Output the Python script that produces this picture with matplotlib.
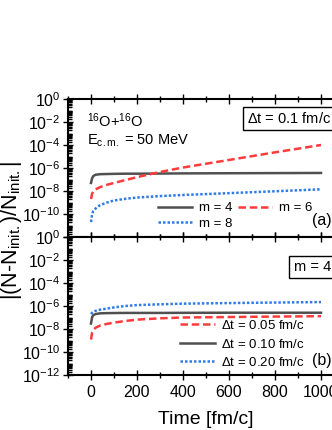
import numpy as np
import matplotlib
matplotlib.use("Agg")
import matplotlib.pyplot as plt
from matplotlib.ticker import LogLocator, MultipleLocator, NullFormatter

plt.rcParams['font.family'] = ['Liberation Sans', 'DejaVu Sans']
plt.rcParams['mathtext.fontset'] = 'custom'
plt.rcParams['mathtext.rm'] = 'Liberation Sans'
plt.rcParams['mathtext.it'] = 'Liberation Sans'
plt.rcParams['mathtext.default'] = 'regular'

# time grid (fm/c)
t = [0, 5, 10, 20, 40, 70, 100, 150, 200, 300, 400, 600, 800, 1000]

# panel (a): dt = 0.1 fm/c
a_m4 = [5e-8, 1.3e-7, 2.0e-7, 2.6e-7, 2.9e-7, 3.0e-7, 3.1e-7, 3.2e-7, 3.2e-7, 3.3e-7, 3.4e-7, 3.5e-7, 3.6e-7, 3.7e-7]
a_m6 = [2e-9, 6e-9, 9e-9, 1.4e-8, 2.2e-8, 3.5e-8, 5e-8, 9e-8, 1.6e-7, 4.5e-7, 1.1e-6, 5e-6, 2.3e-5, 1e-4]
a_m8 = [2e-11, 1e-10, 1.8e-10, 3e-10, 6e-10, 1e-9, 1.5e-9, 2.1e-9, 2.7e-9, 3.6e-9, 4.5e-9, 6.5e-9, 9.5e-9, 1.4e-8]

# panel (b): m = 4
b_005 = [1.2e-9, 5e-9, 8e-9, 1.3e-8, 2e-8, 2.8e-8, 3.6e-8, 5e-8, 6.5e-8, 8.5e-8, 1e-7, 1.1e-7, 1.2e-7, 1.3e-7]
b_010 = [3e-8, 1.1e-7, 1.6e-7, 2.0e-7, 2.3e-7, 2.4e-7, 2.45e-7, 2.5e-7, 2.5e-7, 2.5e-7, 2.55e-7, 2.6e-7, 2.6e-7, 2.6e-7]
b_020 = [2e-7, 2.6e-7, 3.2e-7, 3.8e-7, 4.8e-7, 6e-7, 7.5e-7, 1.0e-6, 1.2e-6, 1.4e-6, 1.6e-6, 1.8e-6, 2.0e-6, 2.2e-6]

c_black = '#505050'
c_red = '#ff3b3b'
c_blue = '#2f7be8'

fig = plt.figure(figsize=(3.32, 4.30), dpi=100)
W, H = 332, 430
left, right = 68, 344
ax1 = fig.add_axes([left / W, (H - 237) / H, (right - left) / W, 138 / H])
ax2 = fig.add_axes([left / W, (H - 375) / H, (right - left) / W, 138 / H])

for ax in (ax1, ax2):
    ax.set_yscale('log')
    ax.set_ylim(1e-12, 1e0)
    ax.set_xlim(-100, 1100)
    ax.yaxis.set_minor_locator(LogLocator(base=10, numticks=40, subs=np.arange(1, 10) * 1.0))
    ax.yaxis.set_minor_formatter(NullFormatter())
    ax.set_yticks([10.0 ** k for k in range(0, -13, -2)])
    ax.xaxis.set_major_locator(MultipleLocator(200))
    ax.xaxis.set_minor_locator(MultipleLocator(100))
    ax.tick_params(which='both', direction='inout', top=True, right=True, labelsize=11.5, width=1.0)
    ax.tick_params(which='major', length=7)
    ax.tick_params(which='minor', length=5)
    ax.tick_params(axis='y', which='major', length=7, pad=2)
    ax.tick_params(axis='y', which='minor', length=3, direction='in')
    for s in ax.spines.values():
        s.set_linewidth(1.5)

ax1.tick_params(labelbottom=False)
ax1.set_yticklabels(['$10^{%d}$' % k if k != -12 else '' for k in range(0, -13, -2)])
ax2.set_yticklabels(['$10^{%d}$' % k for k in range(0, -13, -2)])

# panel (a)
l4, = ax1.plot(t, a_m4, color=c_black, lw=1.8, label='m = 4')
l6, = ax1.plot(t, a_m6, color=c_red, lw=1.8, ls=(0, (3, 1.5)), label='m = 6')
l8, = ax1.plot(t, a_m8, color=c_blue, lw=1.8, ls=(0, (1, 0.8)), label='m = 8')
ax1.legend(handles=[l4, l8, l6], ncol=2, loc='lower left', bbox_to_anchor=(0.3, 0.0),
           frameon=False, fontsize=9.5, handlelength=2.6, columnspacing=0.4,
           handletextpad=0.5, labelspacing=0.25, borderaxespad=0.15)
ax1.text(-17, 1.2e-2, '$^{16}$O+$^{16}$O', fontsize=10.5, va='center')
ax1.text(-17, 2.2e-4, 'E$_{c.m.}$ = 50 MeV', fontsize=10.5, va='center')
ax1.text(680, 2e-2, r'$\Delta$t = 0.1 fm/c', fontsize=10.5, va='center',
         bbox=dict(boxstyle='square,pad=0.3', fc='white', ec='black', lw=1.0))
ax1.text(1004, 2.5e-11, '(a)', fontsize=11.5, ha='center', va='center')

# panel (b)
ax2.plot(t, b_005, color=c_red, lw=1.8, ls=(0, (3, 1.5)), label=r'$\Delta$t = 0.05 fm/c')
ax2.plot(t, b_010, color=c_black, lw=1.8, label=r'$\Delta$t = 0.10 fm/c')
ax2.plot(t, b_020, color=c_blue, lw=1.8, ls=(0, (1, 0.8)), label=r'$\Delta$t = 0.20 fm/c')
ax2.legend(loc='lower left', bbox_to_anchor=(0.385, 0.0), frameon=False, fontsize=9.5,
           handlelength=2.6, handletextpad=0.5, labelspacing=0.42, borderaxespad=0.05)
ax2.text(882, 2.5e-3, 'm = 4', fontsize=10.5, va='center',
         bbox=dict(boxstyle='square,pad=0.3', fc='white', ec='black', lw=1.0))
ax2.text(1004, 2e-11, '(b)', fontsize=11.5, ha='center', va='center')

ax2.set_xticks([0, 200, 400, 600, 800, 1000])
ax2.set_xticklabels(['0', '200', '400', '600', '800', '1000'])
ax2.set_xlabel('Time [fm/c]', fontsize=14, labelpad=8)
fig.text(0.036, (H - 231) / H, r'|(N-N$_{init.}$)/N$_{init.}$|', rotation=90,
         fontsize=15.5, ha='center', va='center')

fig.savefig('out.png', dpi=100)
